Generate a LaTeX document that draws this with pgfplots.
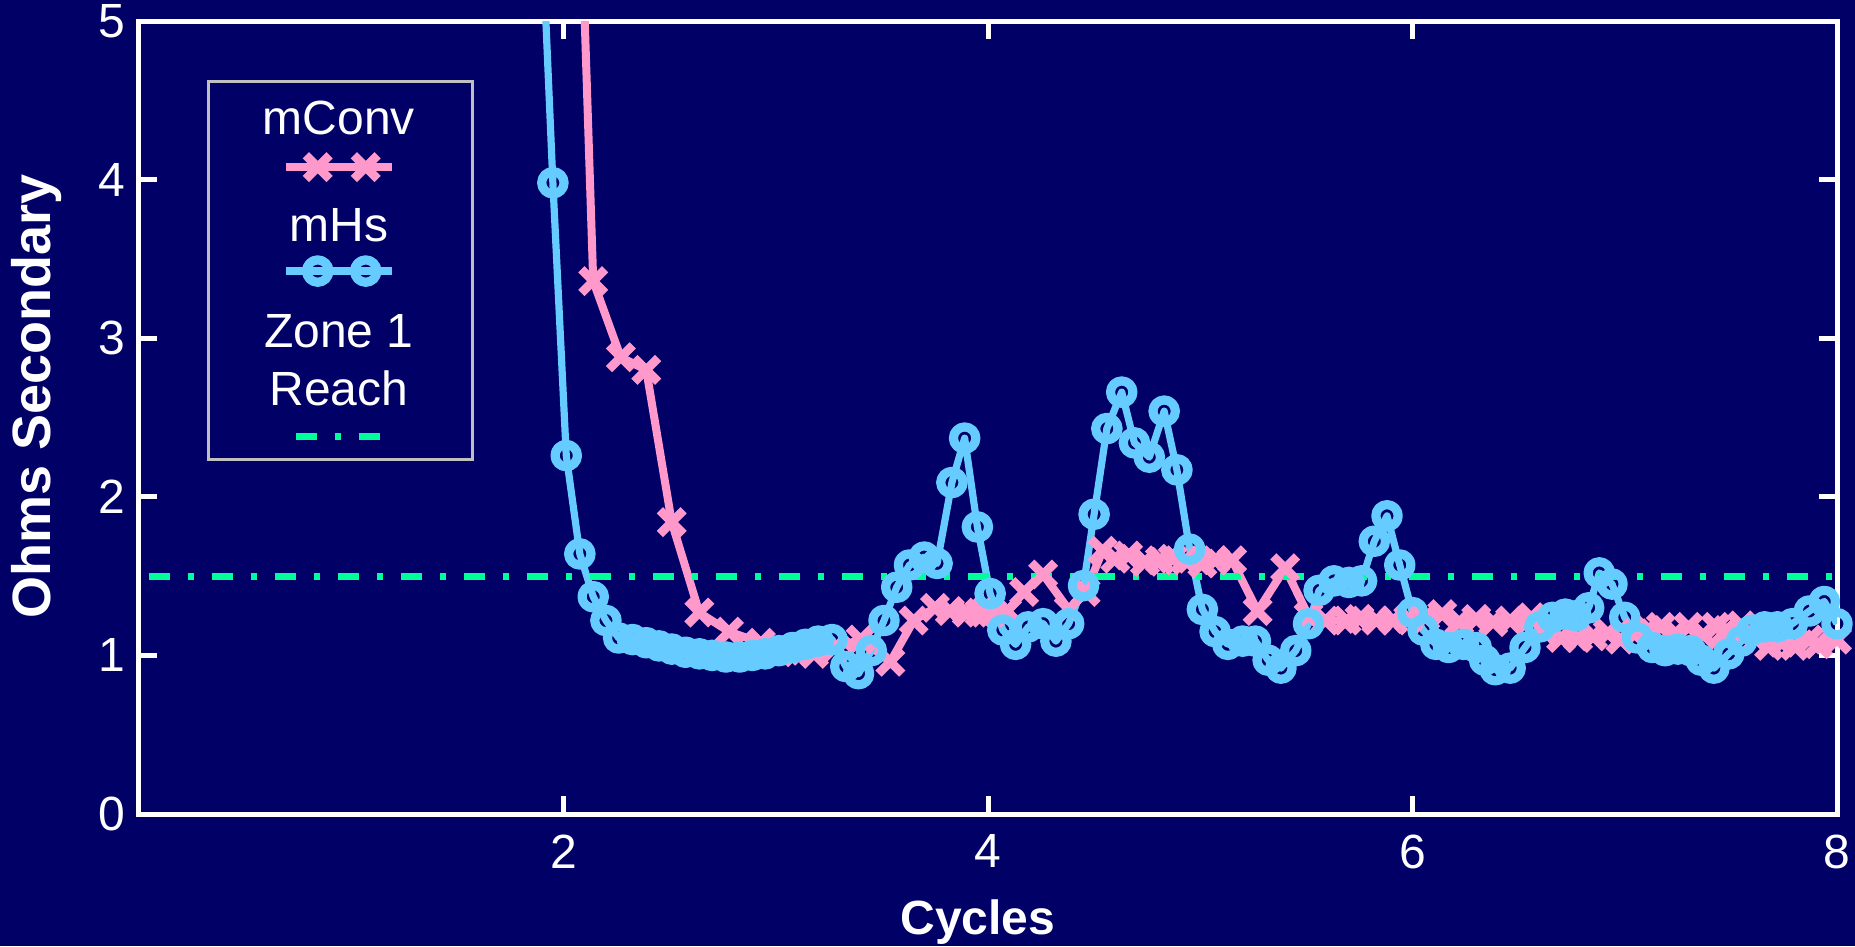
\documentclass[border=0pt]{standalone}
\usepackage{fontspec}
\setmainfont{Liberation Sans}
\usepackage{pgfplots}
\pgfplotsset{compat=1.18}
\definecolor{bg}{RGB}{0,0,102}
\definecolor{pinkc}{RGB}{255,153,204}
\definecolor{bluec}{RGB}{102,204,255}
\definecolor{greenc}{RGB}{0,255,153}
\definecolor{leggray}{RGB}{192,192,192}
\newcommand\legfont{\fontsize{12}{14}\selectfont}
\begin{document}
\begin{tikzpicture}
\path[use as bounding box, fill=bg] (-34.75pt,-33pt) rectangle (429pt,203.5pt);
\begin{axis}[
  at={(0pt,0pt)}, anchor=south west, scale only axis,
  width=424.5pt, height=198.25pt,
  xmin=0, xmax=8, ymin=0, ymax=5,
  xtick={2,4,6,8}, ytick={0,1,2,3,4,5},
  axis line style={white, line width=1.25pt},
  tick style={white, line width=1.25pt},
  major tick length=4.5pt,
  tick label style={text=white, font=\fontsize{12}{14}\selectfont},
  /pgf/number format/assume math mode=true,
  xticklabel style={yshift=-1.7pt},
  xlabel={Cycles}, ylabel={Ohms Secondary},
  every axis x label/.style={at={(axis description cs:0.494,0)}, anchor=base, yshift=-30.15pt, inner sep=0pt, text=white, font=\bfseries\fontsize{12}{14}\selectfont},
  every axis y label/.style={at={(axis description cs:-0.0524,0.527)}, rotate=90, anchor=base, inner sep=0pt, text=white, font=\bfseries\fontsize{13.5}{16}\selectfont},
  legend style={at={(axis description cs:0.1188,0.925)}, anchor=north, fill=bg, draw=leggray, line width=0.7pt, inner xsep=0pt, inner ysep=0pt, row sep=0pt, nodes={inner sep=0pt, text depth=0pt}},
  legend plot pos=left,
]
\addplot[color=pinkc, line width=2pt, line join=round, mark=x, mark size=4.2pt, mark options={line width=2.2pt, solid},
  legend image code/.code={
    \path[draw=none, fill=none] (-19.25pt,-4.7pt) rectangle (45.75pt,21.3pt);
    \node[text=white, inner sep=0pt, anchor=base, font=\legfont] at (13.25pt,8.1pt) {mConv};
    \draw[mark=none] (0pt,0pt) -- (26.5pt,0pt);
    \draw[only marks] plot coordinates {(8pt,0pt) (20pt,0pt)};
  }] table {
x y
2.015 8.5
2.14 3.36
2.27 2.88
2.39 2.80
2.51 1.84
2.64 1.27
2.78 1.15
2.93 1.08
3.05 1.03
3.10 1.02
3.18 1.01
3.28 1.05
3.40 1.10
3.54 0.96
3.65 1.22
3.75 1.30
3.82 1.28
3.90 1.27
3.96 1.27
4.02 1.27
4.09 1.28
4.17 1.40
4.26 1.51
4.38 1.29
4.46 1.40
4.54 1.66
4.60 1.61
4.66 1.63
4.74 1.59
4.81 1.60
4.87 1.61
4.93 1.60
5.01 1.58
5.07 1.60
5.15 1.60
5.27 1.28
5.40 1.55
5.51 1.25
5.59 1.22
5.69 1.22
5.75 1.23
5.83 1.22
5.91 1.22
5.98 1.23
6.06 1.24
6.14 1.26
6.22 1.21
6.30 1.23
6.38 1.21
6.46 1.22
6.56 1.24
6.62 1.15
6.70 1.11
6.78 1.11
6.85 1.12
6.92 1.14
6.98 1.10
7.05 1.14
7.11 1.16
7.17 1.18
7.24 1.14
7.30 1.18
7.37 1.13
7.43 1.18
7.48 1.16
7.55 1.19
7.62 1.10
7.68 1.06
7.74 1.08
7.80 1.06
7.87 1.10
7.91 1.07
8.00 1.10
};
\addlegendentry{\mbox{}}
\addplot[color=bluec, line width=1.8pt, line join=round, mark=o, mark size=2.8pt, mark options={line width=2.3pt, solid},
  legend image code/.code={
    \path[draw=none, fill=none] (-19.25pt,-4.7pt) rectangle (45.75pt,21.3pt);
    \node[text=white, inner sep=0pt, anchor=base, font=\legfont] at (13.25pt,7.5pt) {mHs};
    \draw[mark=none] (0pt,0pt) -- (26.5pt,0pt);
    \draw[only marks] plot coordinates {(8pt,0pt) (20pt,0pt)};
  }] table {
x y
1.875 6.3
1.95 3.98
2.013 2.26
2.077 1.64
2.14 1.37
2.20 1.22
2.26 1.11
2.325 1.10
2.39 1.08
2.45 1.06
2.51 1.04
2.575 1.02
2.64 1.01
2.70 1.00
2.765 0.99
2.83 0.99
2.89 1.00
2.95 1.01
3.015 1.03
3.08 1.05
3.14 1.07
3.20 1.09
3.265 1.10
3.33 0.93
3.39 0.885
3.45 1.03
3.51 1.22
3.57 1.43
3.63 1.57
3.70 1.62
3.76 1.58
3.83 2.09
3.89 2.37
3.95 1.81
4.01 1.39
4.07 1.16
4.13 1.07
4.19 1.18
4.26 1.20
4.32 1.09
4.38 1.20
4.45 1.44
4.50 1.89
4.56 2.43
4.63 2.66
4.69 2.34
4.76 2.25
4.83 2.54
4.89 2.17
4.95 1.67
5.01 1.29
5.07 1.15
5.13 1.07
5.20 1.09
5.26 1.09
5.32 0.97
5.38 0.92
5.45 1.03
5.51 1.20
5.56 1.41
5.63 1.47
5.70 1.46
5.76 1.47
5.82 1.72
5.88 1.88
5.94 1.57
6.00 1.27
6.05 1.16
6.11 1.07
6.17 1.05
6.24 1.07
6.30 1.05
6.34 0.97
6.39 0.91
6.46 0.92
6.53 1.05
6.60 1.18
6.66 1.24
6.72 1.26
6.77 1.25
6.83 1.30
6.88 1.52
6.94 1.45
7.00 1.24
7.06 1.11
7.13 1.05
7.19 1.03
7.25 1.04
7.31 1.03
7.36 0.97
7.42 0.92
7.49 1.01
7.55 1.09
7.60 1.16
7.66 1.18
7.72 1.18
7.79 1.20
7.87 1.28
7.94 1.34
8.00 1.20
};
\addlegendentry{\mbox{}}
\addplot[color=greenc, line width=1.8pt, dash pattern=on 5.25pt off 4.5pt on 1.5pt off 4.5pt, dash phase=13.25pt,
  legend image code/.code={
    \path[draw=none, fill=none] (-19.25pt,-5.8pt) rectangle (45.75pt,36.7pt);
    \node[text=white, inner sep=0pt, anchor=base, font=\legfont] at (13.25pt,22.3pt) {Zone 1};
    \node[text=white, inner sep=0pt, anchor=base, font=\legfont] at (13.25pt,7.7pt) {Reach};
    \draw (0pt,0pt) -- (26.5pt,0pt);
  }] coordinates {(0,1.5) (8,1.5)};
\addlegendentry{\mbox{}}
\end{axis}
\end{tikzpicture}
\end{document}
